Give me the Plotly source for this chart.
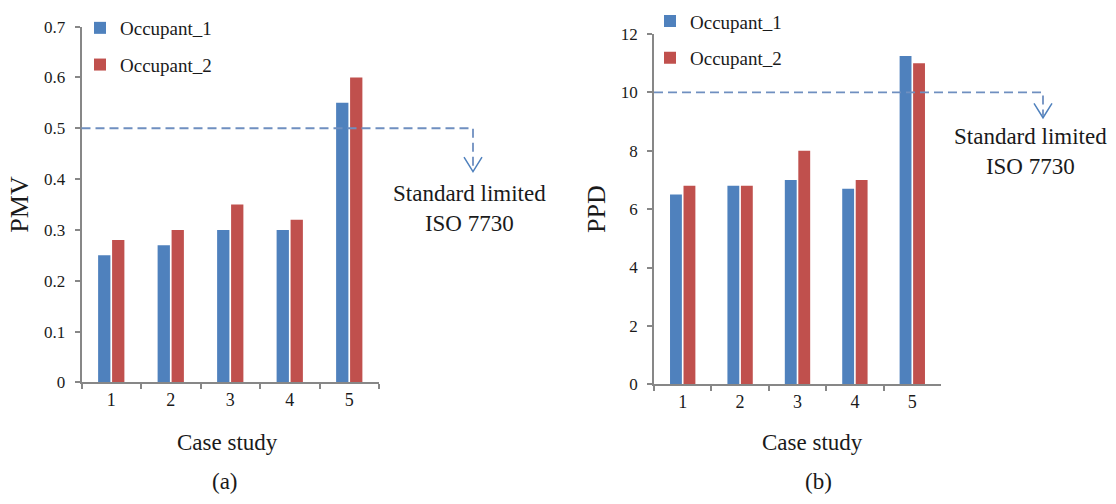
import plotly.graph_objects as go

# ---------------- data ----------------
cases = ["1", "2", "3", "4", "5"]
pmv_occ1 = [0.25, 0.27, 0.30, 0.30, 0.55]
pmv_occ2 = [0.28, 0.30, 0.35, 0.32, 0.60]
ppd_occ1 = [6.5, 6.8, 7.0, 6.7, 11.25]
ppd_occ2 = [6.8, 6.8, 8.0, 7.0, 11.0]
series_names = ["Occupant_1", "Occupant_2"]
pmv_limit = 0.5
ppd_limit = 10
limit_label = "Standard limited<br>ISO 7730"
x_title = "Case study"
panel_labels = ["(a)", "(b)"]

# ---------------- style ----------------
W, H = 1116, 504
FONT = "Liberation Serif"
TXT = "#1a1a1a"
AX = "#878787"
BLUE = "#4F81BD"
RED = "#C0504D"
DASH = "#6F8FC0"

def px_x(p):
    return p / W

def px_y(p):
    return 1 - p / H

# plot areas (pixel positions -> paper)
L_x = [px_x(81.5), px_x(379)]
L_y = [px_y(388), px_y(18.3)]
R_x = [px_x(654), px_x(941)]
R_y = [px_y(390), px_y(26)]
pmv_range = [0, 0.7]
ppd_range = [0, 12]

fig = go.Figure()
colors = [BLUE, RED]
for i, (vals, name) in enumerate(zip([pmv_occ1, pmv_occ2], series_names)):
    fig.add_trace(go.Bar(x=cases, y=vals, name=name, marker=dict(color=colors[i], line=dict(width=0)),
                         xaxis="x", yaxis="y", legend="legend", legendgroup="a%d" % i))
for i, (vals, name) in enumerate(zip([ppd_occ1, ppd_occ2], series_names)):
    fig.add_trace(go.Bar(x=cases, y=vals, name=name, marker=dict(color=colors[i], line=dict(width=0)),
                         xaxis="x2", yaxis="y2", legend="legend2", legendgroup="b%d" % i))

xcommon = dict(type="category", range=[-0.5, 4.5], showline=True, linecolor=AX, linewidth=1.5,
               ticks="outside", tickson="boundaries", ticklen=5, tickcolor=AX, tickwidth=1.5,
               showgrid=False, zeroline=False, tickfont=dict(family=FONT, size=18, color=TXT),
               fixedrange=True)
ycommon = dict(showline=True, linecolor=AX, linewidth=1.5, ticks="outside", ticklen=5,
               tickcolor=AX, tickwidth=1.5, showgrid=False, zeroline=False,
               tickfont=dict(family=FONT, size=17, color=TXT), ticklabelstandoff=6, fixedrange=True)

fig.update_layout(
    width=W, height=H,
    margin=dict(l=0, r=0, t=0, b=0),
    paper_bgcolor="white", plot_bgcolor="white",
    barmode="group", bargap=0.53, bargroupgap=0.12,
    font=dict(family=FONT, color=TXT),
    xaxis=dict(domain=L_x, anchor="y", **xcommon),
    yaxis=dict(domain=L_y, anchor="x", range=pmv_range, dtick=0.1,
               title=dict(text="PMV", font=dict(family=FONT, size=26, color=TXT), standoff=8), **ycommon),
    xaxis2=dict(domain=R_x, anchor="y2", **xcommon),
    yaxis2=dict(domain=R_y, anchor="x2", range=ppd_range, dtick=2,
                title=dict(text="PPD", font=dict(family=FONT, size=26, color=TXT), standoff=8), **ycommon),
    legend=dict(x=px_x(80), y=px_y(0), xanchor="left", yanchor="top", bgcolor="rgba(0,0,0,0)",
                font=dict(family=FONT, size=19, color=TXT), tracegroupgap=9, itemclick=False),
    legend2=dict(x=px_x(650), y=px_y(-7), xanchor="left", yanchor="top", bgcolor="rgba(0,0,0,0)",
                 font=dict(family=FONT, size=19, color=TXT), tracegroupgap=9, itemclick=False),
    showlegend=True,
)

def to_paper_y(val, rng, dom):
    return dom[0] + (val - rng[0]) / (rng[1] - rng[0]) * (dom[1] - dom[0])

shapes = []
annotations = []
panels = [
    dict(limit=pmv_limit, rng=pmv_range, xd=L_x, yd=L_y, xv=473, tip=169, lab_x=469, lab_y=207,
         cs_x=227, pl_x=225, plabel=panel_labels[0]),
    dict(limit=ppd_limit, rng=ppd_range, xd=R_x, yd=R_y, xv=1043, tip=113, lab_x=1030, lab_y=148,
         cs_x=812, pl_x=818, plabel=panel_labels[1]),
]
for p in panels:
    yl = to_paper_y(p["limit"], p["rng"], p["yd"])
    xv = px_x(p["xv"])
    ytip = px_y(p["tip"])
    shapes.append(dict(type="path", xref="paper", yref="paper", layer="above",
                       path=f"M {p['xd'][0]},{yl} L {xv},{yl} L {xv},{ytip + 2 / H}",
                       line=dict(color=DASH, width=1.8, dash="9px,5px")))
    shapes.append(dict(type="path", xref="paper", yref="paper", layer="above",
                       path=f"M {xv - 9 / W},{ytip + 15 / H} L {xv},{ytip} L {xv + 9 / W},{ytip + 15 / H}",
                       line=dict(color=BLUE, width=1.5)))
    annotations.append(dict(text=limit_label, x=px_x(p["lab_x"]), y=px_y(p["lab_y"]), xref="paper",
                            yref="paper", showarrow=False, align="center", xanchor="center",
                            yanchor="middle", font=dict(family=FONT, size=23, color=TXT)))
    annotations.append(dict(text=x_title, x=px_x(p["cs_x"]), y=px_y(451), xref="paper", yref="paper",
                            showarrow=False, xanchor="center", yanchor="middle",
                            font=dict(family=FONT, size=23, color=TXT)))
    annotations.append(dict(text=p["plabel"], x=px_x(p["pl_x"]), y=px_y(491), xref="paper", yref="paper",
                            showarrow=False, xanchor="center", yanchor="middle",
                            font=dict(family=FONT, size=23, color=TXT)))

fig.update_layout(shapes=shapes, annotations=annotations)
fig.write_html("out.html", config={"displayModeBar": False},
               post_script="document.body.style.margin='0';")
